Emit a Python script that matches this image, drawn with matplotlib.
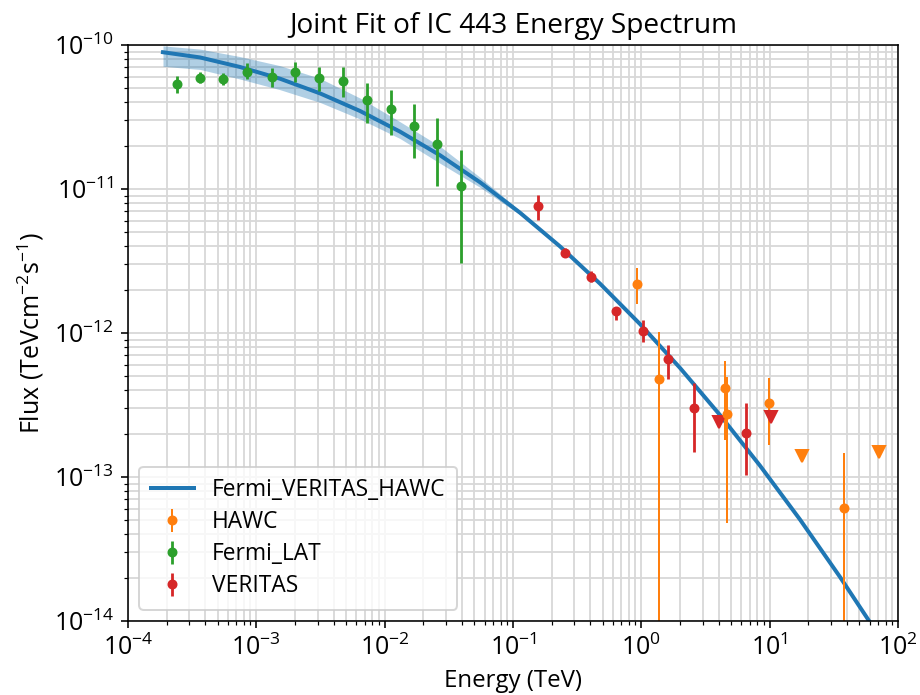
import matplotlib
matplotlib.use("Agg")
import matplotlib.pyplot as plt
import numpy as np

plt.rcParams['font.family'] = ['Open Sans', 'DejaVu Sans']
plt.rcParams['mathtext.fontset'] = 'custom'
plt.rcParams['mathtext.rm'] = 'Open Sans'
plt.rcParams['mathtext.it'] = 'Open Sans:italic'
plt.rcParams['mathtext.bf'] = 'Open Sans:bold'

# joint model curve
model_e = [1.874e-4, 3.639e-4, 7.459e-4, 1.529e-3, 3.134e-3, 6.423e-3, 1.317e-2, 2.699e-2,
           5.532e-2, 0.1134, 0.2324, 0.4764, 0.9766, 2.001, 4.103, 8.409, 17.24, 35.33, 72.42]
model_f = [8.90e-11, 8.19e-11, 7.03e-11, 5.83e-11, 4.61e-11, 3.48e-11, 2.50e-11, 1.714e-11,
           1.113e-11, 6.84e-12, 3.99e-12, 2.20e-12, 1.153e-12, 5.72e-13, 2.69e-13, 1.198e-13,
           5.06e-14, 2.02e-14, 7.68e-15]
band_hi = [9.85e-11, 9.36e-11, 8.30e-11, 7.18e-11, 5.86e-11, 4.28e-11, 2.93e-11, 1.979e-11,
           1.206e-11, 7.06e-12, 4.09e-12, 2.25e-12, 1.181e-12, 5.86e-13, 2.76e-13, 1.227e-13,
           5.18e-14, 2.07e-14, 7.87e-15]
band_lo = [7.11e-11, 6.76e-11, 5.80e-11, 4.89e-11, 3.99e-11, 3.06e-11, 2.24e-11, 1.508e-11,
           1.027e-11, 6.62e-12, 3.90e-12, 2.15e-12, 1.126e-12, 5.58e-13, 2.63e-13, 1.170e-13,
           4.94e-14, 1.97e-14, 7.50e-15]

# Fermi-LAT points
fermi_e = [2.41e-4, 3.65e-4, 5.51e-4, 8.47e-4, 1.33e-3, 2.00e-3, 3.08e-3, 4.74e-3,
           7.29e-3, 1.12e-2, 1.70e-2, 2.57e-2, 3.94e-2]
fermi_f = [5.33e-11, 5.93e-11, 5.78e-11, 6.53e-11, 6.03e-11, 6.53e-11, 5.93e-11, 5.62e-11,
           4.15e-11, 3.57e-11, 2.72e-11, 2.06e-11, 1.05e-11]
fermi_hi = [6.10e-11, 6.53e-11, 6.36e-11, 7.46e-11, 6.89e-11, 7.65e-11, 7.06e-11, 7.06e-11,
            5.42e-11, 4.87e-11, 3.89e-11, 3.10e-11, 1.85e-11]
fermi_lo = [4.67e-11, 5.42e-11, 5.28e-11, 5.81e-11, 5.13e-11, 5.56e-11, 4.82e-11, 4.38e-11,
            2.88e-11, 2.37e-11, 1.63e-11, 1.05e-11, 3.06e-12]

# VERITAS points
veritas_e = [0.157, 0.254, 0.406, 0.636, 1.03, 1.61, 2.59, 6.55]
veritas_f = [7.62e-12, 3.61e-12, 2.46e-12, 1.43e-12, 1.03e-12, 6.59e-13, 3.03e-13, 2.03e-13]
veritas_hi = [9.08e-12, 3.87e-12, 2.70e-12, 1.52e-12, 1.23e-12, 8.25e-13, 4.52e-13, 3.28e-13]
veritas_lo = [6.10e-12, 3.39e-12, 2.27e-12, 1.23e-12, 8.62e-13, 4.77e-13, 1.50e-13, 1.04e-13]
veritas_ul_e = [4.03, 10.2]
veritas_ul_f = [2.42e-13, 2.60e-13]

# HAWC points
hawc_e = [0.92, 1.37, 4.51, 4.68, 9.94, 38.2]
hawc_f = [2.19e-12, 4.77e-13, 4.13e-13, 2.74e-13, 3.28e-13, 6.12e-14]
hawc_hi = [2.81e-12, 1.02e-12, 6.43e-13, 4.98e-13, 4.84e-13, 1.46e-13]
hawc_lo = [1.59e-12, 1e-16, 1.81e-13, 4.77e-14, 1.67e-13, 1e-16]
hawc_ul_e = [17.9, 71.1]
hawc_ul_f = [1.40e-13, 1.48e-13]


def yerr(f, lo, hi):
    f = np.array(f)
    return [f - np.array(lo), np.array(hi) - f]


fig = plt.figure(figsize=(6.4, 4.835), dpi=143.75)
ax = fig.add_axes([0.1391, 0.1065, 0.837, 0.8288])

ax.fill_between(model_e, band_lo, band_hi, color='C0', alpha=0.35, lw=0)
ax.plot(model_e, model_f, color='C0', lw=2.0, label='Fermi_VERITAS_HAWC')

ax.errorbar(hawc_e, hawc_f, yerr=yerr(hawc_f, hawc_lo, hawc_hi), fmt='o', color='C1',
            ms=4, elinewidth=1.0, label='HAWC')
ax.errorbar(fermi_e, fermi_f, yerr=yerr(fermi_f, fermi_lo, fermi_hi), fmt='o', color='C2',
            ms=4, elinewidth=1.4, label='Fermi_LAT')
ax.errorbar(veritas_e, veritas_f, yerr=yerr(veritas_f, veritas_lo, veritas_hi), fmt='o',
            color='C3', ms=4, elinewidth=1.4, label='VERITAS')
ax.plot(hawc_ul_e, hawc_ul_f, 'v', color='C1', ms=6.5, ls='none')
ax.plot(veritas_ul_e, veritas_ul_f, 'v', color='C3', ms=6.5, ls='none')

ax.set_xscale('log')
ax.set_yscale('log')
ax.set_xlim(1e-4, 1e2)
ax.set_ylim(1e-14, 1e-10)
ax.grid(True, which='both', color='#d8d8d8', lw=0.9)
ax.set_axisbelow(True)

ax.set_title('Joint Fit of IC 443 Energy Spectrum', fontsize=14)
ax.set_xlabel('Energy (TeV)', fontsize=12)
ax.set_ylabel(r'Flux ($\mathrm{TeV cm^{-2} s^{-1}}$)', fontsize=12.5)
ax.tick_params(labelsize=12.5)
ax.legend(loc='lower left', fontsize=11.4, borderpad=0.5, labelspacing=0.35,
          handlelength=1.9)

fig.savefig('out.png', dpi=143.75)
